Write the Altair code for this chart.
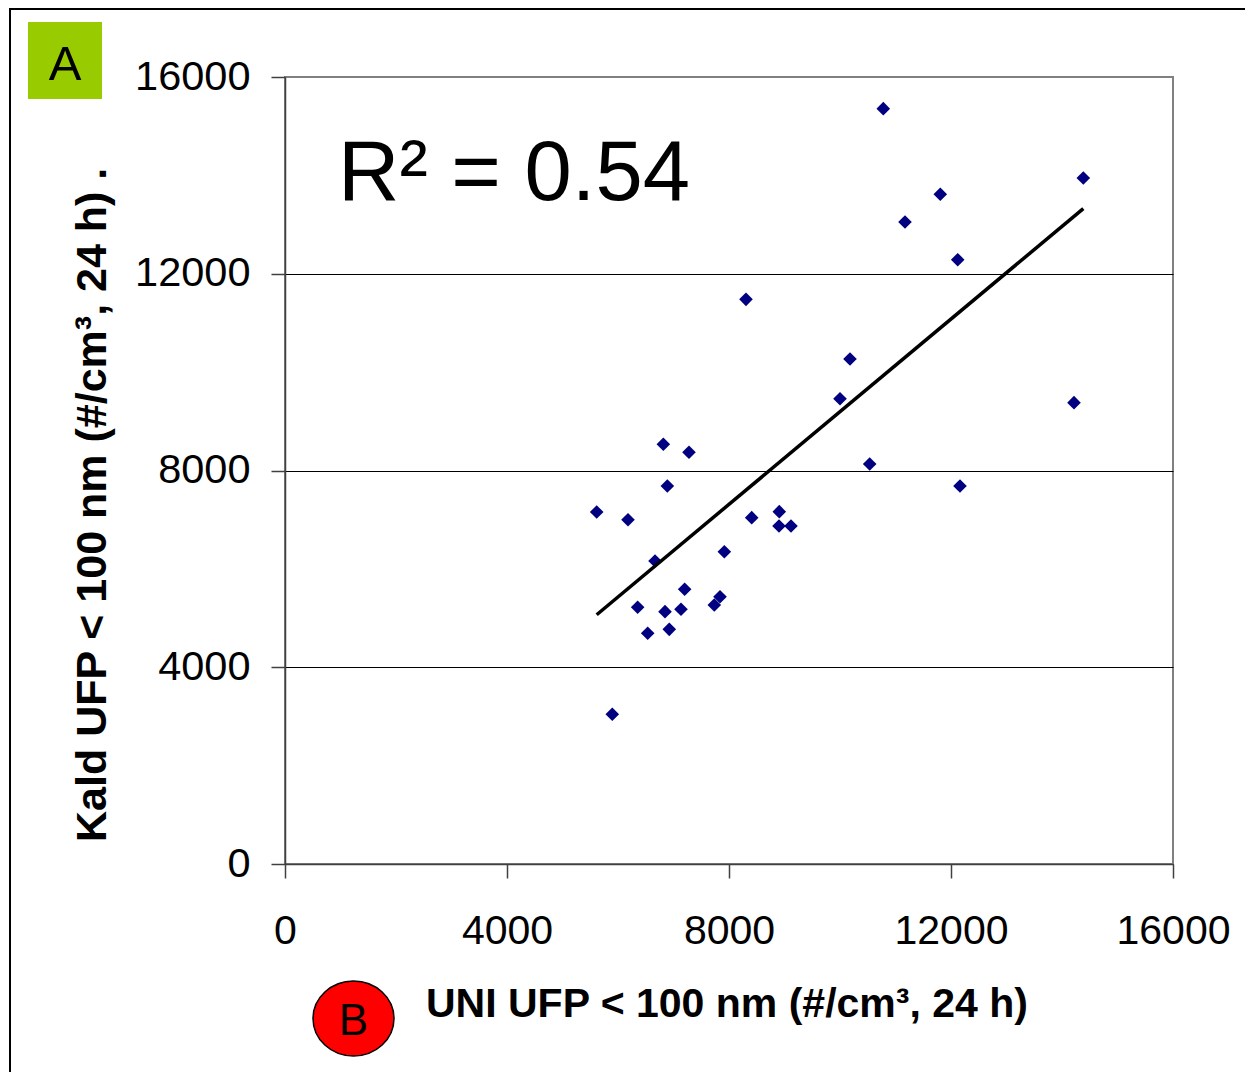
import altair as alt
import pandas as pd

uni_ufp = [6817, 7279, 6889, 5616, 6180, 8409, 8906, 8901, 9117, 7916, 6667,
           7201, 6354, 6847, 7135, 7838, 7735, 6535, 6924, 5897, 10780, 14384,
           11807, 11171, 12121, 8306, 10180, 10000, 14216, 10535, 12162]
kald_ufp = [8533, 8370, 7685, 7156, 7000, 7041, 7163, 6872, 6872, 6349, 6160,
            5585, 5219, 5130, 5178, 5434, 5266, 4690, 4771, 3043, 15357, 13947,
            13617, 13053, 12286, 11480, 10267, 9460, 9379, 8132, 7685]
tick_values = [0, 4000, 8000, 12000, 16000]
r2_label = "R² = 0.54"
x_title = "UNI UFP < 100 nm (#/cm³, 24 h)"
y_title = "Kald UFP < 100 nm (#/cm³, 24 h)    ."

df = pd.DataFrame({"uni": uni_ufp, "kald": kald_ufp})
FONT = "Liberation Sans"
one = alt.Data(values=[{}])

xs = alt.X("uni:Q", scale=alt.Scale(domain=[0, 16000], nice=False),
           axis=alt.Axis(values=tick_values, grid=False, title=None, format="d",
                         labelFontSize=41, labelFont=FONT, labelColor="black",
                         tickSize=14, tickColor="#404040", tickWidth=1.5,
                         domainColor="#404040", domainWidth=1.5,
                         labelPadding=33, labelFlush=False))
ys = alt.Y("kald:Q", scale=alt.Scale(domain=[0, 16000], nice=False),
           axis=alt.Axis(values=tick_values, grid=True, title=None, format="d",
                         gridColor=alt.condition("datum.value >= 16000", alt.value("#808080"), alt.value("#000000")),
                         gridWidth=1,
                         labelFontSize=41.5, labelFont=FONT, labelColor="black",
                         tickSize=14, tickColor="#404040", tickWidth=1.5,
                         domainColor="#404040", domainWidth=1.5,
                         labelPadding=21, labelFlush=False))

points = alt.Chart(df).mark_point(shape="diamond", filled=True, color="#000080",
                                  size=185, opacity=1).encode(x=xs, y=ys)

trend = alt.Chart(df).transform_regression("uni", "kald").mark_line(
    color="black", strokeWidth=3.5).encode(x="uni:Q", y="kald:Q")

r2 = alt.Chart(one).mark_text(text=r2_label, fontSize=85, font=FONT, align="left",
                              baseline="alphabetic", color="black").encode(
    x=alt.value(53), y=alt.value(123))

xt = alt.Chart(one).mark_text(text=x_title, fontSize=41, font=FONT, fontWeight="bold",
                              align="left", baseline="alphabetic", color="black").encode(
    x=alt.value(141), y=alt.value(940))

yt = alt.Chart(one).mark_text(text=y_title, fontSize=43, font=FONT, fontWeight="bold",
                              align="left", baseline="alphabetic", angle=270, color="black").encode(
    x=alt.value(-179), y=alt.value(765))

green = alt.Chart(one).mark_rect(color="#99cc00").encode(
    x=alt.value(-257), x2=alt.value(-183), y=alt.value(-55), y2=alt.value(22))
a_txt = alt.Chart(one).mark_text(text="A", fontSize=49, font=FONT, align="center",
                                 baseline="alphabetic", color="black").encode(
    x=alt.value(-220), y=alt.value(3))

ellipse_path = "M -1,0 A 1,0.926 0 1,0 1,0 A 1,0.926 0 1,0 -1,0 Z"
red = alt.Chart(one).mark_point(shape=ellipse_path, filled=True, fill="#ff0000",
                                stroke="black", strokeWidth=1.5, size=6561, opacity=1).encode(
    x=alt.value(68.5), y=alt.value(941.5))
b_txt = alt.Chart(one).mark_text(text="B", fontSize=44, font=FONT, align="center",
                                 baseline="alphabetic", color="black").encode(
    x=alt.value(68.5), y=alt.value(958))

frame = alt.Chart(one).mark_rect(fill="transparent", stroke="black", strokeWidth=2).encode(
    x=alt.value(-275), x2=alt.value(1000), y=alt.value(-68), y2=alt.value(1100))

chart = alt.layer(frame, points, trend, r2, xt, yt, green, a_txt, red, b_txt).properties(
    width=888, height=787,
    autosize=alt.AutoSizeParams(type="none"),
    padding={"left": 277, "top": 69, "right": 72, "bottom": 208},
    background="white",
).configure_view(stroke="#808080", strokeWidth=2)

chart.save("out.html", embed_options={"renderer": "svg", "actions": False})
